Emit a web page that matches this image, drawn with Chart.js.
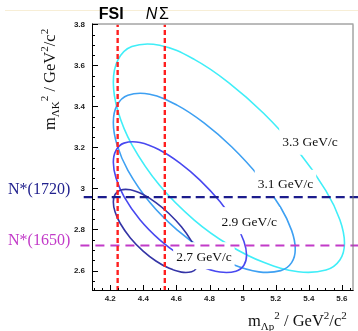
<!DOCTYPE html>
<html>
<head>
<meta charset="utf-8">
<script src="https://cdn.jsdelivr.net/npm/chart.js@4.4.1/dist/chart.umd.min.js"></script>
<style>
  html, body { margin: 0; padding: 0; background: #fff; }
  #contenedor { width: 358px; height: 331px; position: relative; }
</style>
</head>
<body>
<div id="contenedor"><canvas id="grafica"></canvas></div>
<script>
// momentos del haz y bordes de Dalitz
const momentos = ["2.7 GeV/c", "2.9 GeV/c", "3.1 GeV/c", "3.3 GeV/c"];
const colores = ["#3434a6", "#4848f0", "#3ea0f2", "#40eef8"];

// m_Λp^2 a lo largo de cada borde (extremo izquierdo -> extremo derecho)
const mLp27 = [4.2189, 4.2292, 4.2600, 4.3218, 4.3989, 4.4761, 4.5532, 4.6303, 4.6921, 4.7229, 4.7332];
const mLp29 = [4.2189, 4.2350, 4.2833, 4.3799, 4.5007, 4.6214, 4.7422, 4.8629, 4.9595, 5.0078, 5.0239];
const mLp31 = [4.2189, 4.2409, 4.3068, 4.4387, 4.6036, 4.7685, 4.9334, 5.0983, 5.2302, 5.2961, 5.3181];
const mLp33 = [4.2189, 4.2468, 4.3306, 4.4982, 4.7077, 4.9172, 5.1267, 5.3362, 5.5038, 5.5876, 5.6155];

// m_ΛK^2 del borde superior (mismos puntos)
const mLKsup27 = [2.9346, 2.9707, 2.9919, 2.9936, 2.9704, 2.9313, 2.8794, 2.8130, 2.7420, 2.6889, 2.6452];
const mLKsup29 = [3.1279, 3.1865, 3.2213, 3.2244, 3.1869, 3.1242, 3.0412, 2.9361, 2.8252, 2.7426, 2.6753];
const mLKsup31 = [3.3225, 3.4055, 3.4548, 3.4595, 3.4069, 3.3191, 3.2038, 3.0589, 2.9074, 2.7957, 2.7051];
const mLKsup33 = [3.5181, 3.6270, 3.6923, 3.6986, 3.6299, 3.5157, 3.3668, 3.1812, 2.9888, 2.8478, 2.7343];

// m_ΛK^2 del borde inferior (sin los dos extremos)
const mLKinf27 = [2.8868, 2.8305, 2.7586, 2.6945, 2.6465, 2.6119, 2.5921, 2.5941, 2.6129];
const mLKinf29 = [3.0508, 2.9607, 2.8474, 2.7479, 2.6747, 2.6223, 2.5929, 2.5967, 2.6258];
const mLKinf31 = [3.2141, 3.0888, 2.9331, 2.7985, 2.7006, 2.6316, 2.5935, 2.5994, 2.6386];
const mLKinf33 = [3.3767, 3.2144, 3.0156, 2.8461, 2.7245, 2.6399, 2.5938, 2.6021, 2.6513];

const umbrales = ["FSI", "NΣ"];
const mUmbral = [4.245, 4.530];
const resonancias = ["N*(1720)", "N*(1650)"];
const mResonancia2 = [2.958, 2.7225];

const xTicks = [4.2, 4.4, 4.6, 4.8, 5, 5.2, 5.4, 5.6];
const yTicks = [2.6, 2.8, 3, 3.2, 3.4, 3.6, 3.8];

// donde van los rotulos de momento (coordenadas de datos)
const posRotulos = [[4.766, 2.665], [5.040, 2.836], [5.259, 3.018], [5.407, 3.223]];

function contorno(xs, sup, inf){
    let pts = xs.map((x, i) => ({x: x, y: sup[i]}));
    for (let i = inf.length - 1; i >= 0; i--){
        pts.push({x: xs[i + 1], y: inf[i]});
    }
    // se solapa un tramo en cada punta para que el cierre quede suave
    return [pts[pts.length - 1], ...pts, pts[0], pts[1]];
}

const curvas = [
    contorno(mLp27, mLKsup27, mLKinf27),
    contorno(mLp29, mLKsup29, mLKinf29),
    contorno(mLp31, mLKsup31, mLKinf31),
    contorno(mLp33, mLKsup33, mLKinf33),
];

const datasets = [
    {data: [{x: mUmbral[0], y: 2.5}, {x: mUmbral[0], y: 3.8}], borderColor: "#ff1f1f", borderWidth: 2.4, borderDash: [5, 3]},
    {data: [{x: mUmbral[1], y: 2.5}, {x: mUmbral[1], y: 3.8}], borderColor: "#ff1f1f", borderWidth: 2.4, borderDash: [5, 3]},
    {data: [{x: 4.04, y: mResonancia2[0]}, {x: 5.71, y: mResonancia2[0]}], borderColor: "#1c1c8c", borderWidth: 2.3, borderDash: [9, 5], clip: false},
    {data: [{x: 4.02, y: mResonancia2[1]}, {x: 5.71, y: mResonancia2[1]}], borderColor: "#c23ac8", borderWidth: 2, borderDash: [9, 6], clip: false},
];
curvas.forEach((pts, i) => {
    const n = pts.length;
    datasets.push({
        label: momentos[i],
        data: pts,
        borderColor: colores[i],
        borderWidth: 1.6,
        tension: 0.4,
        segment: {
            borderColor: c => (c.p0DataIndex === 0 || c.p1DataIndex === n - 1) ? "rgba(0,0,0,0)" : undefined
        }
    });
});

function textoCompuesto(ctx, partes, x, y){
    let cx = x;
    partes.forEach(([t, tam, dy]) => {
        ctx.font = tam + 'px "Liberation Serif"';
        ctx.fillText(t, cx, y + dy);
        cx += ctx.measureText(t).width;
    });
}

const marco = {
    id: "marco",
    afterDatasetDraw(chart, args){
        if (args.index !== 4) return;
        // rotulos de momento con caja blanca encima de las curvas
        const {ctx, scales: {x, y}} = chart;
        ctx.save();
        ctx.font = '13.5px "Liberation Serif"';
        ctx.textAlign = "center";
        ctx.textBaseline = "middle";
        momentos.forEach((m, i) => {
            const px = x.getPixelForValue(posRotulos[i][0]);
            const py = y.getPixelForValue(posRotulos[i][1]);
            const w = ctx.measureText(m).width;
            ctx.fillStyle = "#fff";
            ctx.fillRect(px - w / 2 - 3, py - 15, w + 6, 27);
            ctx.fillStyle = "#111";
            ctx.fillText(m, px, py);
        });
        ctx.restore();
    },
    afterDraw(chart){
        const {ctx, chartArea: a, scales: {x, y}} = chart;
        ctx.save();
        // linea tenue arriba
        ctx.strokeStyle = "#f7eed6";
        ctx.lineWidth = 1;
        ctx.beginPath(); ctx.moveTo(5, 10.5); ctx.lineTo(358, 10.5); ctx.stroke();

        // marco
        ctx.strokeStyle = "#777";
        ctx.beginPath();
        ctx.moveTo(a.left, a.top - 0.5); ctx.lineTo(a.right, a.top - 0.5);
        ctx.moveTo(a.right - 0.5, a.top); ctx.lineTo(a.right - 0.5, a.bottom);
        ctx.stroke();
        ctx.strokeStyle = "#000";
        ctx.beginPath();
        ctx.moveTo(a.left + 0.5, a.top - 1); ctx.lineTo(a.left + 0.5, a.bottom);
        ctx.moveTo(a.left, a.bottom - 0.5); ctx.lineTo(a.right, a.bottom - 0.5);
        // marcas hacia dentro, cada 0.05
        for (let k = 82; k <= 113; k++){
            const px = Math.round(x.getPixelForValue(k * 0.05)) + 0.5;
            const l = k % 4 === 0 ? 6 : 3;
            ctx.moveTo(px, a.bottom); ctx.lineTo(px, a.bottom - l);
        }
        for (let k = 51; k <= 76; k++){
            const py = Math.round(y.getPixelForValue(k * 0.05)) + 0.5;
            const l = k % 4 === 0 ? 6 : 3;
            ctx.moveTo(a.left, py); ctx.lineTo(a.left + l, py);
        }
        ctx.stroke();

        // titulos de ejes
        ctx.fillStyle = "#111";
        ctx.textAlign = "left";
        ctx.textBaseline = "alphabetic";
        textoCompuesto(ctx, [["m", 16.5, 0], ["Λp", 11, 4], ["2", 11, -7], [" / GeV", 16.5, 0], ["2", 11, -7], ["/c", 16.5, 0], ["2", 11, -7]], 248, 326);
        ctx.save();
        ctx.translate(55, 130);
        ctx.rotate(-Math.PI / 2);
        textoCompuesto(ctx, [["m", 16.5, 0], ["ΛK", 11, 4], ["2", 11, -7], [" / GeV", 16.5, 0], ["2", 11, -7], ["/c", 16.5, 0], ["2", 11, -7]], 0, 0);
        ctx.restore();

        // umbrales arriba
        ctx.fillStyle = "#000";
        ctx.font = 'bold 16px "Liberation Sans"';
        ctx.textAlign = "center";
        ctx.fillText(umbrales[0], x.getPixelForValue(mUmbral[0]) - 6.5, 18.5);
        ctx.textAlign = "left";
        ctx.font = 'italic 16px "Liberation Sans"';
        const nx = x.getPixelForValue(mUmbral[1]) - 19;
        ctx.fillText("N", nx, 18.5);
        const wN = ctx.measureText("N").width;
        ctx.font = '16px "Liberation Sans"';
        ctx.fillText("Σ", nx + wN + 1.5, 18.5);

        // resonancias a la izquierda
        ctx.font = '16px "Liberation Serif"';
        ctx.textBaseline = "middle";
        ctx.fillStyle = "#22228e";
        ctx.fillText(resonancias[0], 8, y.getPixelForValue(mResonancia2[0]) - 7.5);
        ctx.fillStyle = "#c23ac8";
        ctx.fillText(resonancias[1], 8, y.getPixelForValue(mResonancia2[1]) - 5);
        ctx.restore();
    }
};

const grafica = new Chart("grafica", {
    type: "line",
    data: {datasets: datasets},
    plugins: [marco],
    options: {
        responsive: true,
        maintainAspectRatio: false,
        animation: false,
        layout: {padding: {top: 24.5, right: 4.5, left: 0, bottom: 0}},
        elements: {point: {radius: 0}},
        scales: {
            x: {
                type: "linear",
                min: 4.09,
                max: 5.67,
                afterFit: s => { s.height = 40; },
                afterBuildTicks: s => { s.ticks = xTicks.map(v => ({value: v})); },
                grid: {display: false, drawTicks: false},
                border: {display: false},
                ticks: {
                    autoSkip: false, maxRotation: 0, padding: 3, color: "#222",
                    font: {family: "Liberation Sans", size: 8, weight: "bold"},
                    callback: v => String(v)
                }
            },
            y: {
                type: "linear",
                min: 2.5,
                max: 3.8,
                afterFit: s => { s.width = 92; },
                afterBuildTicks: s => { s.ticks = yTicks.map(v => ({value: v})); },
                grid: {display: false, drawTicks: false},
                border: {display: false},
                ticks: {
                    autoSkip: false, padding: 7, color: "#222",
                    font: {family: "Liberation Sans", size: 8, weight: "bold"},
                    callback: v => String(v)
                }
            }
        },
        plugins: {
            legend: {display: false},
            tooltip: {enabled: false}
        }
    }
});
</script>
</body>
</html>
